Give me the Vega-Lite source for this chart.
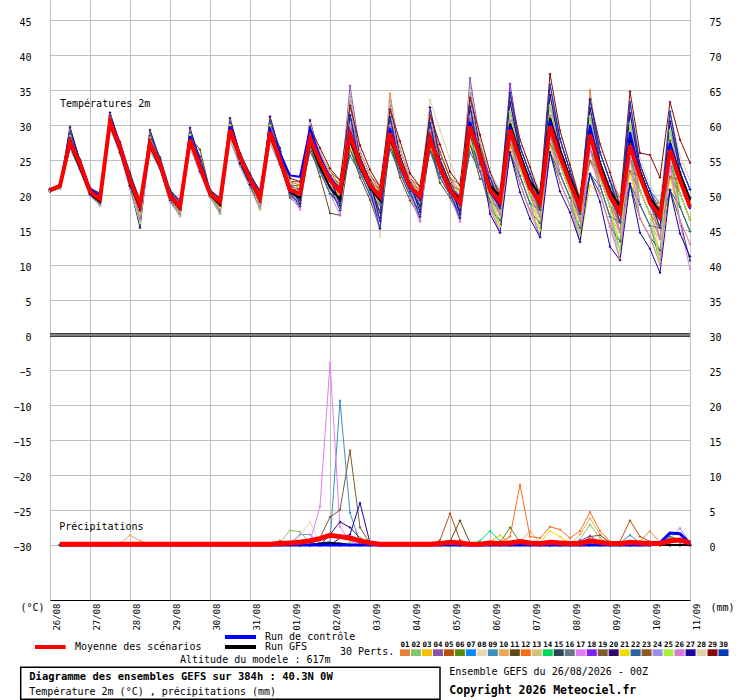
{
  "$schema": "https://vega.github.io/schema/vega-lite/v6.json",
  "width": 640,
  "height": 600,
  "autosize": {"type": "none"},
  "padding": {"left": 50, "top": 0, "right": 50, "bottom": 100},
  "background": "white",
  "config": {"view": {"stroke": null}, "font": "DejaVu Sans Mono"},
  "datasets": {
    "temp": [
      {"s": "01", "t": [20.8,21.4,28.0,24.7,20.7,19.6,30.8,27.1,22.5,18.8,27.8,24.8,20.1,18.5,28.2,24.5,20.4,19.2,29.6,25.7,22.6,19.8,29.4,25.6,21.3,19.3,30.2,25.4,22.7,19.1,34.2,25.4,22.1,17.5,34.5,25.6,21.8,18.4,32.5,25.1,21.6,17.8,35.3,26.5,21.6,17.2,34.6,26.0,22.0,16.9,35.8,26.7,22.6,16.3,35.0,24.8,20.9,14.7,33.3,23.5,19.7,13.7,31.9,23.3,19.6]},
      {"s": "02", "t": [20.7,21.2,28.0,24.5,20.5,19.2,30.8,26.9,22.1,17.9,27.8,24.5,19.8,18.0,28.2,24.0,20.2,18.6,29.6,25.5,22.3,19.1,29.4,25.0,20.3,19.7,27.5,24.1,21.2,19.8,27.6,23.8,20.7,18.6,28.0,23.8,20.5,19.1,27.5,23.2,20.3,18.4,28.6,24.4,21.6,20.8,29.3,26.0,22.0,20.6,29.8,26.7,22.6,19.8,28.6,24.8,20.9,19.7,27.1,23.5,19.7,18.8,26.4,23.3,19.6]},
      {"s": "03", "t": [20.6,21.2,27.3,24.2,20.3,19.2,30.2,26.5,21.7,17.9,27.0,24.2,19.5,18.0,27.5,23.7,20.0,18.6,28.8,25.0,21.9,19.1,28.5,24.7,21.3,20.2,29.1,25.4,22.7,20.5,31.4,25.4,22.1,19.8,31.1,25.6,21.8,19.8,30.3,25.1,21.6,18.9,32.6,26.5,19.0,16.4,28.2,22.7,18.8,16.0,28.6,23.0,19.6,15.3,26.7,21.3,16.9,13.4,25.3,18.6,15.6,12.1,24.5,18.3,14.8]},
      {"s": "04", "t": [20.8,21.3,28.4,24.7,20.7,19.4,31.0,27.1,22.5,18.6,28.2,24.8,20.1,18.3,28.6,24.5,20.4,19.0,30.0,25.7,22.6,19.5,29.9,25.6,21.9,19.7,29.7,26.0,23.3,19.8,35.6,26.2,22.8,18.6,33.4,26.6,22.4,19.1,32.5,26.1,22.4,18.4,36.7,27.6,22.4,19.9,33.3,26.9,23.0,19.7,34.3,28.0,23.4,19.1,32.4,26.1,22.0,18.5,31.7,24.3,20.6,17.9,30.5,24.4,20.8]},
      {"s": "05", "t": [20.5,21.1,27.0,23.8,20.1,19.0,29.9,26.1,21.3,17.3,26.6,23.9,19.3,17.7,27.1,23.4,19.8,18.2,28.3,24.5,21.5,18.7,28.0,24.4,20.7,20.8,27.5,24.8,22.1,21.0,27.6,24.5,21.4,20.3,28.0,24.5,21.2,20.3,27.5,24.0,20.7,19.7,28.6,25.5,19.8,18.1,28.2,23.9,19.9,17.9,28.6,24.3,20.6,17.3,26.7,22.5,18.4,16.1,25.3,20.6,17.3,15.3,24.5,20.2,16.5]},
      {"s": "06", "t": [20.8,21.4,27.6,24.7,20.7,19.8,30.5,27.1,22.5,19.0,27.4,24.8,20.1,18.8,27.9,24.5,20.4,19.3,29.3,25.7,22.6,20.1,29.0,25.6,20.0,19.3,26.9,23.4,20.2,19.1,26.6,23.2,20.0,17.5,27.3,23.2,19.9,18.4,26.9,22.5,20.0,17.8,27.3,23.4,20.7,18.1,30.6,25.0,21.0,17.9,31.3,25.5,21.7,17.3,29.9,23.6,19.8,16.1,28.6,22.6,18.9,15.3,27.8,22.1,18.3]},
      {"s": "07", "t": [20.7,21.3,27.6,24.5,20.5,19.4,30.5,26.9,22.1,18.6,27.4,24.5,19.8,18.3,27.9,24.0,20.2,19.0,29.3,25.5,22.3,19.5,29.0,25.0,21.3,20.8,28.6,25.4,22.7,21.0,30.0,25.4,22.1,20.3,29.9,25.6,21.8,20.3,29.2,25.1,21.6,19.7,31.2,26.5,22.4,20.8,31.9,26.9,23.0,20.6,32.8,28.0,23.4,19.8,31.2,26.1,22.0,19.7,30.2,24.3,20.6,18.8,29.2,24.4,20.8]},
      {"s": "08", "t": [20.8,21.4,28.9,24.9,20.9,19.6,31.3,27.3,22.9,18.8,28.5,25.1,20.5,18.5,28.9,25.0,20.6,19.2,30.3,25.9,22.8,19.8,30.3,26.2,20.7,18.4,30.2,24.8,22.1,17.8,34.2,24.5,21.4,14.0,33.4,24.5,21.2,16.9,32.5,24.0,20.7,16.7,35.3,25.5,19.8,16.4,30.6,23.9,19.9,16.0,31.3,24.3,20.6,15.3,29.9,22.5,18.4,13.4,28.6,20.6,17.3,12.1,27.8,20.2,16.5]},
      {"s": "09", "t": [20.6,21.1,27.6,24.2,20.3,19.0,30.5,26.5,21.7,17.3,27.4,24.2,19.5,17.7,27.9,23.7,20.0,18.2,29.3,25.0,21.9,18.7,29.0,24.7,20.3,20.2,26.9,24.1,21.2,20.5,26.6,23.8,20.7,19.8,27.3,23.8,20.5,19.8,26.9,23.2,20.3,18.9,27.3,24.4,20.7,19.9,28.2,25.0,21.0,19.7,28.6,25.5,21.7,19.1,26.7,23.6,19.8,18.5,25.3,22.6,18.9,17.9,24.5,22.1,18.3]},
      {"s": "10", "t": [20.8,21.4,28.4,24.9,20.9,19.8,31.0,27.3,22.9,19.0,28.2,25.1,20.5,18.8,28.6,25.0,20.6,19.3,30.0,25.9,22.8,20.1,29.9,26.2,21.9,20.8,29.7,26.0,23.3,21.0,32.8,26.2,22.8,20.3,32.2,26.6,22.4,20.3,31.4,26.1,22.4,19.7,33.9,27.6,19.0,17.2,27.2,22.7,18.8,16.9,27.3,23.0,19.6,16.3,24.9,21.3,16.9,14.7,23.4,18.6,15.6,13.7,22.6,18.3,14.8]},
      {"s": "11", "t": [20.8,21.5,28.0,24.9,20.9,20.1,30.8,27.3,22.9,19.1,27.8,25.1,20.5,19.0,28.2,26.5,20.6,19.5,29.6,25.9,22.8,20.4,29.4,26.2,19.6,18.4,26.9,22.6,17.4,17.1,26.6,22.5,19.3,15.2,27.3,22.5,19.2,16.9,26.9,21.7,19.6,16.7,27.3,22.3,21.6,19.9,30.6,26.0,22.0,19.7,31.3,26.7,22.6,19.1,29.9,24.8,20.9,18.5,28.6,23.5,19.7,17.9,27.8,23.3,19.6]},
      {"s": "12", "t": [20.6,21.3,27.0,24.2,20.3,19.4,29.9,26.5,21.7,18.6,26.6,24.2,19.5,18.3,27.1,23.7,20.0,19.0,28.3,25.0,21.9,19.5,28.0,24.7,21.9,21.4,29.1,26.0,23.3,21.5,31.4,26.2,22.8,20.7,31.1,26.6,22.4,20.7,30.3,26.1,22.4,20.6,32.6,27.6,19.8,17.2,29.3,23.9,19.9,16.9,29.8,24.3,20.6,16.3,28.6,22.5,18.4,14.7,27.1,20.6,17.3,13.7,26.4,20.2,16.5]},
      {"s": "13", "t": [20.7,21.4,27.3,24.5,20.5,19.6,30.2,26.9,22.1,18.8,27.0,24.5,19.8,18.5,27.5,24.0,20.2,19.2,28.8,25.5,22.3,19.8,28.5,25.0,20.7,19.7,28.6,24.8,22.1,19.8,30.0,24.5,21.4,18.6,29.9,24.5,21.2,19.1,29.2,24.0,20.7,18.4,31.2,25.5,21.6,19.0,31.9,26.0,22.0,18.9,32.8,26.7,22.6,18.3,31.2,24.8,20.9,17.4,30.2,23.5,19.7,16.9,29.2,23.3,19.6]},
      {"s": "14", "t": [20.8,21.2,29.7,24.7,20.7,19.2,31.3,27.1,22.5,17.9,28.5,24.8,20.1,18.0,28.9,24.5,20.4,18.6,30.3,25.7,22.6,19.1,30.3,25.6,20.3,19.3,28.1,24.1,21.2,19.1,28.6,23.8,20.7,17.5,28.8,23.8,20.5,18.4,28.1,23.2,20.3,17.8,29.8,24.4,19.0,15.5,29.3,22.7,18.8,14.0,29.8,23.0,19.6,14.3,28.6,21.3,16.9,12.0,27.1,18.6,15.6,10.5,26.4,18.3,14.8]},
      {"s": "15", "t": [20.5,21.0,27.3,23.8,20.1,18.7,30.2,26.1,21.3,16.6,27.0,23.9,19.3,17.3,27.5,23.4,19.8,17.7,28.8,24.5,21.5,18.4,28.5,24.4,20.0,18.8,27.5,23.4,20.2,18.5,27.6,23.2,20.0,16.3,28.0,23.2,19.9,17.6,27.5,22.5,20.0,17.3,28.6,23.4,18.1,16.4,26.1,21.6,17.7,16.0,26.1,21.8,18.5,15.3,23.0,20.2,15.5,13.4,21.6,16.6,14.0,12.1,20.7,16.4,10.6]},
      {"s": "16", "t": [20.6,21.0,28.0,24.2,20.3,18.7,30.8,26.5,21.7,16.6,27.8,24.2,19.5,17.3,28.2,23.7,20.0,17.7,29.6,25.0,21.9,18.4,29.4,24.7,20.7,20.2,28.1,24.8,22.1,20.5,28.6,24.5,21.4,19.8,28.8,24.5,21.2,19.8,28.1,24.0,20.7,18.9,29.8,25.5,19.8,19.0,27.2,23.9,19.9,18.9,27.3,24.3,20.6,18.3,24.9,22.5,18.4,17.4,23.4,20.6,17.3,16.9,22.6,20.2,16.5]},
      {"s": "17", "t": [20.8,21.1,29.3,24.7,20.7,19.0,31.5,27.1,22.5,17.3,28.9,24.8,20.1,17.7,29.3,24.5,20.4,18.2,30.7,25.7,22.6,18.7,31.2,25.6,20.0,17.9,28.6,23.4,20.2,17.1,30.0,23.2,20.0,15.0,29.9,23.2,19.9,16.2,29.2,22.5,20.0,16.2,31.2,23.4,19.0,14.6,30.6,22.7,18.8,14.0,31.3,23.0,19.6,13.3,29.9,21.3,16.9,10.7,28.6,18.6,15.6,11.5,24.0,16.0,9.4]},
      {"s": "18", "t": [20.8,21.5,27.3,24.7,20.7,20.1,30.2,27.1,22.5,19.1,27.0,24.8,20.1,19.0,27.5,24.5,20.4,19.5,28.8,25.7,22.6,20.4,28.5,25.6,21.3,20.8,29.1,25.4,22.7,21.0,31.4,25.4,22.1,20.3,31.1,25.6,21.8,20.3,30.3,25.1,21.6,19.7,32.6,26.5,22.4,19.0,35.9,26.9,23.0,18.9,35.8,28.0,23.4,18.3,33.7,26.1,22.0,17.4,33.3,24.3,20.6,16.9,31.9,24.4,20.8]},
      {"s": "19", "t": [20.5,21.2,26.6,23.8,20.1,19.2,29.6,26.1,21.3,17.9,26.3,23.9,19.3,18.0,26.8,23.4,19.8,18.6,27.9,24.5,21.5,19.1,27.4,24.4,21.3,21.4,28.1,25.4,22.7,21.5,28.6,25.4,22.1,20.7,28.8,25.6,21.8,20.7,28.1,25.1,21.6,20.6,29.8,26.5,21.6,19.0,29.3,26.0,22.0,18.9,29.8,26.7,22.6,18.3,28.6,24.8,20.9,17.4,27.1,23.5,19.7,16.9,26.4,23.3,19.6]},
      {"s": "20", "t": [20.5,20.9,27.6,23.8,20.1,18.5,30.5,26.1,21.3,15.3,27.4,23.9,19.3,17.0,27.9,23.4,19.8,17.3,29.3,24.5,21.5,18.0,29.0,24.4,20.7,19.3,29.1,24.8,22.1,19.1,31.4,24.5,21.4,17.5,31.1,24.5,21.2,18.4,30.3,24.0,20.7,17.8,32.6,25.5,21.6,18.1,33.3,26.0,22.0,17.9,34.3,26.7,22.6,17.3,32.4,24.8,20.9,16.1,31.7,23.5,19.7,15.3,30.5,23.3,19.6]},
      {"s": "21", "t": [20.7,21.1,28.4,24.5,20.5,19.0,31.0,26.9,22.1,17.3,29.3,24.5,19.8,17.7,28.6,24.0,20.2,18.2,30.0,25.5,22.3,18.7,29.9,25.0,21.3,19.7,29.7,25.4,22.7,19.8,32.8,25.4,22.1,18.6,32.2,25.6,21.8,19.1,31.4,25.1,21.6,18.4,33.9,26.5,18.1,15.5,27.2,21.6,17.7,15.0,27.3,21.8,18.5,13.3,21.4,20.2,15.5,10.9,23.4,16.6,14.0,10.5,22.6,16.4,13.0]},
      {"s": "22", "t": [20.7,21.4,27.0,24.5,20.5,19.8,29.9,26.9,22.1,19.0,26.6,24.5,19.8,18.8,27.1,24.0,20.2,19.3,28.3,25.5,22.3,20.1,28.0,25.0,20.0,19.7,26.2,23.4,20.2,19.8,25.6,23.2,20.0,18.6,26.5,23.2,19.9,19.1,26.2,22.5,20.0,18.4,26.1,23.4,19.0,18.1,26.1,22.7,18.8,17.9,26.1,23.0,19.6,17.3,23.0,21.3,16.9,16.1,21.6,18.6,15.6,15.3,20.7,18.3,14.8]},
      {"s": "23", "t": [20.8,21.3,29.3,24.9,20.9,19.4,31.5,27.3,22.9,18.6,28.9,25.1,20.5,18.3,29.3,25.0,20.6,19.0,30.7,25.9,22.8,19.5,30.8,26.2,21.9,21.9,28.6,26.0,23.3,22.1,30.0,26.2,22.8,21.2,29.9,26.6,22.4,21.2,29.2,26.1,22.4,21.4,31.2,27.6,20.7,20.8,27.2,25.0,21.0,20.6,27.3,25.5,21.7,19.8,24.9,23.6,19.8,19.7,23.4,22.6,18.9,18.8,22.6,22.1,18.3]},
      {"s": "24", "t": [20.5,20.9,26.6,23.5,19.9,18.5,29.6,25.8,20.8,16.0,26.3,23.6,19.0,17.0,26.8,23.1,19.7,17.3,27.9,24.1,21.0,18.0,27.4,24.2,20.7,18.8,29.7,24.8,22.1,18.5,32.8,24.5,21.4,16.3,32.2,24.5,21.2,17.6,31.4,24.0,20.7,17.3,33.9,25.5,20.7,17.2,31.9,25.0,21.0,16.9,32.8,25.5,21.7,16.3,31.2,23.6,19.8,14.7,30.2,22.6,18.9,13.7,29.2,22.1,18.3]},
      {"s": "25", "t": [20.6,20.9,28.4,24.2,20.3,18.5,31.0,26.5,21.7,16.0,28.2,24.2,19.5,17.0,28.6,23.7,20.0,17.3,30.0,25.0,21.9,18.0,29.9,24.7,20.7,21.4,26.9,24.8,22.1,21.5,26.6,24.5,21.4,20.7,27.3,24.5,21.2,20.7,26.9,24.0,20.7,20.6,27.3,25.5,19.8,15.5,31.9,23.9,19.9,15.0,32.8,24.3,20.6,14.3,31.2,22.5,18.4,12.0,30.2,20.6,17.3,10.5,29.2,20.2,16.5]},
      {"s": "26", "t": [20.7,21.0,28.9,24.5,20.5,18.7,31.3,26.9,22.1,16.6,28.5,24.5,19.8,17.3,28.9,24.0,20.2,17.7,30.3,25.5,22.3,18.4,30.3,25.0,20.3,18.8,28.6,24.1,21.2,18.5,30.0,23.8,20.7,16.3,29.9,23.8,20.5,16.2,29.2,23.2,20.3,16.2,31.2,24.4,18.1,14.6,28.2,21.6,17.7,14.0,28.6,21.8,18.5,13.3,26.7,20.2,15.5,10.7,25.3,16.6,14.0,10.0,24.5,16.4,13.0]},
      {"s": "27", "t": [20.8,21.2,29.7,24.9,20.9,19.2,31.8,27.3,22.9,17.9,29.3,25.1,20.5,18.0,29.6,25.0,20.6,18.6,31.0,25.9,22.8,19.1,31.2,26.2,21.3,18.8,30.7,25.4,22.7,18.5,34.2,25.4,22.1,16.3,33.4,25.6,21.8,17.6,32.5,25.1,21.6,17.3,35.3,26.5,17.3,14.6,26.1,20.4,16.6,14.0,26.1,20.5,17.5,13.3,23.0,19.0,12.6,10.7,21.6,14.6,12.3,8.9,20.7,14.5,11.2]},
      {"s": "28", "t": [20.6,21.4,26.6,24.2,20.3,19.6,29.6,26.5,21.7,18.8,26.3,24.2,19.5,18.5,26.8,23.7,20.0,19.2,27.9,25.0,21.9,19.8,27.4,24.7,21.9,20.2,30.2,26.0,23.3,20.5,34.2,26.2,22.8,19.8,33.4,26.6,22.4,19.8,33.6,29.3,25.0,20.6,35.3,27.6,23.3,20.8,34.6,27.9,24.0,20.6,35.8,29.2,24.3,19.8,33.7,27.3,23.2,19.7,33.3,25.2,21.4,18.8,31.9,25.6,22.1]},
      {"s": "29", "t": [20.8,21.5,27.6,24.9,20.9,20.3,30.5,27.3,22.9,19.3,27.4,25.1,20.5,19.3,27.9,25.0,20.6,19.6,29.3,25.9,22.8,20.7,29.0,26.2,22.4,21.9,29.7,26.7,23.8,22.1,32.8,27.1,23.6,21.2,32.2,27.7,23.1,21.2,31.4,27.2,23.3,21.4,33.9,28.6,23.3,19.9,34.6,27.9,24.0,19.7,37.3,29.2,24.3,19.1,33.6,27.3,23.2,18.5,34.8,26.0,25.7,22.5,33.3,27.9,24.6]},
      {"s": "30", "t": [20.9,21.5,28.9,25.1,21.1,20.1,31.3,27.6,23.2,19.1,28.5,25.4,20.8,19.0,28.9,25.5,20.8,19.5,30.3,26.0,23.1,20.4,30.3,26.7,20.3,18.4,29.1,24.1,21.2,17.8,31.4,23.8,20.7,15.2,31.1,23.8,20.5,16.9,30.3,23.2,20.3,16.7,32.6,24.4,22.4,19.0,34.6,26.9,23.0,18.9,35.8,28.0,23.4,18.3,33.7,26.1,22.0,17.4,33.3,24.3,20.6,16.9,31.9,24.4,20.8]},
      {"s": "c", "t": [20.8,21.4,28.0,24.8,20.8,19.8,31.0,27.2,22.4,18.2,27.6,24.6,20.0,18.4,28.4,24.4,20.4,19.0,29.8,25.8,22.6,19.6,29.4,26.0,22.8,22.6,29.5,25.5,22.5,20.8,29.2,24.8,21.6,19.5,29.5,24.8,21.0,19.4,28.5,24.2,20.6,18.6,30.5,25.6,20.4,18.5,29.8,25.2,21.2,18.6,30.6,26.0,21.5,18.0,30.0,24.0,19.5,17.2,29.0,23.0,18.6,16.5,27.5,22.5,18.0]},
      {"s": "g", "t": [20.6,21.2,27.2,23.8,20.2,19.0,30.0,26.4,21.6,18.0,27.0,24.0,19.6,18.0,27.6,23.8,20.0,18.6,29.0,25.2,22.0,19.2,28.6,24.6,20.4,19.6,27.6,24.0,21.0,19.4,27.8,24.0,21.0,19.2,28.0,24.2,21.0,19.6,28.6,24.4,21.0,19.4,30.4,26.0,21.4,19.8,30.2,25.8,22.0,20.0,31.0,26.4,22.4,19.2,29.6,24.4,20.6,18.4,28.2,23.4,19.6,17.6,27.4,23.0,19.2]},
      {"s": "m", "t": [20.7,21.3,27.6,24.5,20.5,19.4,30.5,26.9,22.1,18.6,27.4,24.5,19.8,18.3,27.9,24.0,20.2,19.0,29.3,25.5,22.3,19.5,29.0,25.0,20.7,20.2,28.1,24.8,22.1,20.5,28.6,24.5,21.4,19.8,28.8,24.5,21.2,19.8,28.1,24.0,20.7,18.9,29.8,25.5,20.7,19.0,29.3,25.0,21.0,18.9,29.8,25.5,21.7,18.3,28.6,23.6,19.8,17.4,27.1,22.6,18.9,16.9,26.4,22.1,18.3]}
    ],
    "rain": [
      {"s": "01", "p": [0,0,0,0,0,0,0,0,0,0,0,0,0,0,0,0,0,0,0,0,0,0,0,0,0,0,0,0,0,0,0,0,0,0,0,0,0,0,0,0,0,0,0,0,0,0,0,0,0,0,0,0,0,0,0,0,0,0,0.5,2.0,0.3,0,0,0]},
      {"s": "02", "p": [0,0,0,0,0,0,0,0,0,0,0,0,0,0,0,0,0,0,0,0,0,0,0.3,2.1,1.9,0.3,0,0,0,0,0,0,0,0,0,0,0,0,0,0,0,0,0,0,0,0,0,0,0,0,0,0,0.8,2.9,1.0,0,0,0,0,0,0,0,0,0]},
      {"s": "03", "p": [0,0,0,0,0,0,0,0,0,0,0,0,0,0,0,0,0,0,0,0,0,0,0,0,0,0,0,0,0,0,0,0,0,0,0,0,0,0,0,0,0,0,0,0.5,1.4,0.4,0,0,0,0,0,0,0,0,0,0,0,0,0,0,0,0,0,0]},
      {"s": "05", "p": [0,0,0,0,0,0,0,0,0,0,0,0,0,0,0,0,0,0,0,0,0,0.2,0.6,0.2,0,0,0,0,0,0,0,0,0,0,0,0,0,0,0.7,4.5,0.7,0,0,0,0,0,0,0,0,0,0,0,0,0,0,0,0.5,3.5,1.2,0.5,0,0,0,0]},
      {"s": "06", "p": [0,0,0,0,0,0,0,0,0,0,0,0,0,0,0,0,0,0,0,0,0,0,0,0,0,0,0,0,0,0,0,0,0,0,0,0,0,0,0,0,0,0,0,0,0.3,2.5,0.4,0,0,0,0,0,0,0,0,0,0,0,0,0,0,1.2,0.8,0]},
      {"s": "08", "p": [0,0,0,0,0,0,0,0,0,0,0,0,0,0,0,0,0,0,0,0,0,0,0,0.2,1.3,3.3,0.3,0,0,0,0,0,0,0,0,0,0,0,0,0,0,0,0,0,0,0,0,0,0,0,0,0,0,0,0,0,0,0,0,0,0,0,0,0]},
      {"s": "09", "p": [0,0,0,0,0,0,0,0,0,0,0,0,0,0,0,0,0,0,0,0,0,0,0,0,0,0,0.3,0.5,20.6,4.6,0.3,0,0,0,0,0,0,0,0,0,0,0,0,0,0,0,0,0,0,0,0,0,0,0,0,0,0.3,1.4,0.3,0,0,0,0,0]},
      {"s": "10", "p": [0,0,0,0,0,0,0.2,1.4,0.6,0.1,0,0,0,0,0,0,0,0,0,0,0,0,0,0,0,0,0,0,0,0,0,0,0,0,0,0,0,0,0,0,0,0,0,0,0,0,0.4,2.0,0.3,0,0,0,1.5,3.8,1.5,0,0,0,0,0,0,0,0,0]},
      {"s": "11", "p": [0,0,0,0,0,0,0,0,0,0,0,0,0,0,0,0,0,0,0,0,0,0,0,0,0,0,0,0,0,0,0,0,0,0,0,0,0,0,0,0.5,3.5,0.3,0,0,0,0,0,0,0,0,0,0,0,0,0,0,0,0,0,0,0,0,0,0]},
      {"s": "12", "p": [0,0,0,0,0,0,0,0,0,0,0,0,0,0,0,0,0,0,0,0,0,0,0,0,0,0,0,0,0,0,0,0,0,0,0,0,0,0,0,0,0,0,0,0,0.3,1.2,8.6,1.2,1.0,2.6,2.2,1.0,2.0,4.7,2.0,0.5,0,0,0,0,0,0,0,0]},
      {"s": "14", "p": [0,0,0,0,0,0,0,0,0,0,0,0,0,0,0,0,0,0,0,0,0,0,0,0,0,0,0,0,0,0,0,0,0,0,0,0,0,0,0,0,0,0,0.6,2.0,0.6,0,0,0,0,0,0,0,0,0,0,0,0,0,0,0,0,0,0,0]},
      {"s": "17", "p": [0,0,0,0,0,0,0,0,0,0,0,0,0,0,0,0,0,0,0,0,0,0,0,0,0.2,0.5,5.5,26.0,2.6,0.5,0,0,0,0,0,0,0,0,0,0,0,0,0,0,0,0,0,0,0,0,0,0,0,0,0,0,0,0,0,0,0,0,0,0]},
      {"s": "18", "p": [0,0,0,0,0,0,0,0,0,0,0,0,0,0,0,0,0,0,0,0,0,0,0,0,0,0,0,0,0,0,0,0,0,0,0,0,0,0,0,0,0,0,0,0,0,0,0,0,0,0,0,0,0.6,1.3,0.3,0,0,0,0,0,0,0,0,0]},
      {"s": "19", "p": [0,0,0,0,0,0,0,0,0,0,0,0,0,0,0,0,0,0,0,0,0,0,0,0,0,0,1.0,4.0,5.0,13.5,2.5,0.2,0,0,0,0,0,0,0,0,0,0,0,0,0,0,0,0,0,0,0,0,0,0,0,0,0,0,0,0,0,0,0,0]},
      {"s": "20", "p": [0,0,0,0,0,0,0,0,0,0,0,0,0,0,0,0,0,0,0,0,0,0,0,0,0,0,0,1.5,3.3,2.5,1.0,0.2,0,0,0,0,0,0,0,0,0,0,0,0,0,0,0,0,0,0,0,0,0,0,0,0,0,0,0,0,0,0,0,0]},
      {"s": "21", "p": [0,0,0,0,0,0,0,0,0,0,0,0,0,0,0,0,0,0,0,0,0,0,0,0,0,0,0,0,0,0,0,0,0,0,0,0,0,0,0,0,0,0,0,0,0,0,0,0,0.4,2.0,1.2,0.2,0,0,0,0,0,0,0,0,0,0,0,0]},
      {"s": "23", "p": [0,0,0,0,0,0,0,0,0,0,0,0,0,0,0,0,0,0,0,0,0,0,0,0,0,0,0,0,0,0,0,0,0,0,0,0,0,0,0,0,0,0,0,0,0,0,0,0,0,0,0,0,0,1.2,1.4,0.4,0,0,0,0,0,0,0,0]},
      {"s": "24", "p": [0,0,0,0,0,0,0,0,0,0,0,0,0,0,0,0,0,0,0,0,0,0,0,0.3,1.5,1.5,0.2,0,0,0,0,0,0,0,0,0,0,0,0,0,0,0,0,0,0,0,0,0,0,0,0,0,0,0,0,0,0,0,0,0,0,0.9,2.4,0.3]},
      {"s": "25", "p": [0,0,0,0,0,0,0,0,0,0,0,0,0,0,0,0,0,0,0,0,0,0,0,0,0,0,0,0,0,0.4,1.0,0.2,0,0,0,0,0,0,0,0,0,0,0,0,0,0,0,0,0,0,0,0,0,0,0,0,0,0,0,0,0,0,0,0]},
      {"s": "27", "p": [0,0,0,0,0,0,0,0,0,0,0,0,0,0,0,0,0,0,0,0,0,0,0,0,0,0,0,0,1.0,1.5,6.0,0.3,0,0,0,0,0,0,0,0,0,0,0,0,0,0,0,0,0,0,0,0,0,0,0,0,0,0,0,0,0,0,0,0]},
      {"s": "g", "p": [0,0,0,0,0,0,0,0,0,0,0,0,0,0,0,0,0,0,0,0,0,0,0,0,0,0,0.2,0.3,0.2,0,0,0,0,0,0,0,0,0,0,0,0,0,0,0,0,0,0,0,0,0,0,0,0,0,0,0,0,0,0,0,0,0,0,0]},
      {"s": "c", "p": [0,0,0,0,0,0,0,0,0,0,0,0,0,0,0,0,0,0,0,0,0,0,0,0,0,0,0,0,0,0,0,0,0,0,0,0,0,0,0,0,0,0,0,0,0,0,0,0,0,0,0,0,0,0,0,0,0,0,0,0,0.3,1.7,1.6,0.2]},
      {"s": "m", "p": [0.1,0.1,0.1,0.1,0.1,0.1,0.1,0.1,0.1,0.1,0.1,0.1,0.1,0.1,0.1,0.1,0.1,0.1,0.1,0.1,0.1,0.1,0.2,0.3,0.4,0.6,0.9,1.4,1.2,1.0,0.6,0.3,0.1,0.1,0.1,0.1,0.1,0.1,0.2,0.4,0.3,0.1,0.1,0.3,0.2,0.3,0.5,0.3,0.2,0.4,0.3,0.2,0.2,0.6,0.4,0.2,0.2,0.4,0.3,0.2,0.2,0.6,0.7,0.3]}
    ]
  },
  "resolve": {"scale": {"x": "independent", "y": "independent"}},
  "layer": [
    {
      "data": {"name": "rain"},
      "transform": [
        {"flatten": ["p"]},
        {"window": [{"op": "row_number", "as": "i"}], "groupby": ["s"]}
      ],
      "encoding": {
        "x": {
          "field": "i", "type": "quantitative",
          "scale": {"domain": [0, 64]},
          "axis": {
            "orient": "bottom", "values": [0,4,8,12,16,20,24,28,32,36,40,44,48,52,56,60,64],
            "labelExpr": "['26/08','27/08','28/08','29/08','30/08','31/08','01/09','02/09','03/09','04/09','05/09','06/09','07/09','08/09','09/09','10/09','11/09'][datum.value/4]",
            "grid": true, "gridColor": "#c0c0c0", "gridWidth": 1,
            "domain": true, "domainColor": "#000000", "domainWidth": 1,
            "ticks": false, "labelAngle": 270, "labelAlign": "right", "labelBaseline": "middle",
            "labelPadding": 3, "labelOffset": 6, "labelFont": "DejaVu Sans Mono", "labelFontSize": 9,
            "labelColor": "#000000", "labelOverlap": false, "labelFlush": false, "labelBound": false, "title": null
          }
        },
        "y": {
          "field": "p", "type": "quantitative",
          "scale": {"domain": [-7.857, 77.857]},
          "axis": {
            "orient": "right", "values": [0,5,10,15,20,25,30,35,40,45,50,55,60,65,70,75],
            "grid": false, "domain": false, "ticks": false, "labelPadding": 19, "labelOffset": 2.5,
            "labelAlign": "left", "labelFont": "DejaVu Sans Mono", "labelFontSize": 10, "labelColor": "#000000",
            "labelOverlap": false, "labelFlush": false, "labelBound": false,
            "title": "(mm)", "titleAngle": 0, "titleX": 32, "titleY": 607, "titleAlign": "center", "titleBaseline": "middle",
            "titleFont": "DejaVu Sans Mono", "titleFontSize": 10, "titleFontWeight": "normal", "titleColor": "#000000"
          }
        }
      },
      "layer": [
        {
          "transform": [{"filter": "length(datum.s) == 2"}],
          "mark": {"type": "line", "strokeWidth": 1, "point": {"shape": "cross", "size": 6, "filled": true}},
          "encoding": {
            "color": {
              "field": "s", "type": "nominal", "legend": null,
              "scale": {
                "domain": ["01","02","03","04","05","06","07","08","09","10","11","12","13","14","15","16","17","18","19","20","21","22","23","24","25","26","27","28","29","30"],
                "range": ["#e8823a","#88c46c","#f0c000","#8c52a8","#b4500c","#5a8a0c","#0a86f5","#e8d8b4","#3c90c0","#e8a85c","#604a18","#f86c1c","#d2c07c","#00d85c","#284858","#687880","#e07cf4","#7c20f0","#7c5c30","#300872","#f0d800","#2866a0","#8e5a20","#9a8ee8","#a4f040","#d878d4","#1c00a0","#e0d0b0","#880808","#0038b8"]
              }
            }
          }
        },
        {"transform": [{"filter": "datum.s == 'g'"}], "mark": {"type": "line", "color": "#000000", "strokeWidth": 2}},
        {"transform": [{"filter": "datum.s == 'c'"}], "mark": {"type": "line", "color": "#0000ff", "strokeWidth": 3}},
        {"transform": [{"filter": "datum.s == 'm'"}], "mark": {"type": "line", "color": "#ff0000", "strokeWidth": 5}}
      ]
    },
    {
      "data": {"name": "temp"},
      "transform": [
        {"flatten": ["t"]},
        {"window": [{"op": "row_number", "as": "i"}], "groupby": ["s"]}
      ],
      "encoding": {
        "x": {"field": "i", "type": "quantitative", "scale": {"domain": [1, 65]}, "axis": null},
        "y": {
          "field": "t", "type": "quantitative",
          "scale": {"domain": [-37.857, 47.857]},
          "axis": {
            "orient": "left", "values": [-30,-25,-20,-15,-10,-5,0,5,10,15,20,25,30,35,40,45],
            "grid": true, "gridColor": "#c0c0c0", "gridWidth": 1,
            "domain": false, "ticks": false, "labelPadding": 19, "labelOffset": 2.5,
            "labelFont": "DejaVu Sans Mono", "labelFontSize": 10, "labelColor": "#000000",
            "labelOverlap": false, "labelFlush": false, "labelBound": false,
            "title": "(°C)", "titleAngle": 0, "titleX": -18, "titleY": 607, "titleAlign": "center", "titleBaseline": "middle",
            "titleFont": "DejaVu Sans Mono", "titleFontSize": 10, "titleFontWeight": "normal", "titleColor": "#000000"
          }
        }
      },
      "layer": [
        {
          "transform": [{"filter": "length(datum.s) == 2"}],
          "mark": {"type": "line", "strokeWidth": 1, "point": {"shape": "cross", "size": 6, "filled": true}},
          "encoding": {
            "color": {
              "field": "s", "type": "nominal", "legend": null,
              "scale": {
                "domain": ["01","02","03","04","05","06","07","08","09","10","11","12","13","14","15","16","17","18","19","20","21","22","23","24","25","26","27","28","29","30"],
                "range": ["#e8823a","#88c46c","#f0c000","#8c52a8","#b4500c","#5a8a0c","#0a86f5","#e8d8b4","#3c90c0","#e8a85c","#604a18","#f86c1c","#d2c07c","#00d85c","#284858","#687880","#e07cf4","#7c20f0","#7c5c30","#300872","#f0d800","#2866a0","#8e5a20","#9a8ee8","#a4f040","#d878d4","#1c00a0","#e0d0b0","#880808","#0038b8"]
              }
            }
          }
        },
        {"transform": [{"filter": "datum.s == 'g'"}], "mark": {"type": "line", "color": "#000000", "strokeWidth": 2}},
        {"transform": [{"filter": "datum.s == 'c'"}], "mark": {"type": "line", "color": "#0000ff", "strokeWidth": 2}},
        {"transform": [{"filter": "datum.s == 'm'"}], "mark": {"type": "line", "color": "#ff0000", "strokeWidth": 4}}
      ]
    },
    {
      "data": {"values": [{}]},
      "layer": [
        {"mark": {"type": "rule", "color": "#000000", "strokeWidth": 3.5},
         "encoding": {"y": {"datum": 30, "type": "quantitative", "scale": {"domain": [-7.857, 77.857]}, "axis": null}}},
        {"mark": {"type": "rule", "color": "#ffffff", "strokeWidth": 1},
         "encoding": {"y": {"datum": 30, "type": "quantitative", "scale": {"domain": [-7.857, 77.857]}, "axis": null}}},
        {"mark": {"type": "text", "text": "Températures 2m", "align": "left", "baseline": "middle", "font": "DejaVu Sans Mono", "fontSize": 10, "color": "#000000"},
         "encoding": {"x": {"datum": 1.0, "type": "quantitative", "scale": {"domain": [0, 64]}, "axis": null},
                      "y": {"datum": 63.0, "type": "quantitative", "scale": {"domain": [-7.857, 77.857]}, "axis": null}}},
        {"mark": {"type": "text", "text": "Précipitations", "align": "left", "baseline": "middle", "font": "DejaVu Sans Mono", "fontSize": 10, "color": "#000000"},
         "encoding": {"x": {"datum": 0.93, "type": "quantitative", "scale": {"domain": [0, 64]}, "axis": null},
                      "y": {"datum": 2.61, "type": "quantitative", "scale": {"domain": [-7.857, 77.857]}, "axis": null}}},
        {"mark": {"type": "rule", "color": "#ff0000", "strokeWidth": 4},
         "encoding": {"x": {"datum": -1.5, "type": "quantitative", "scale": {"domain": [0, 64]}, "axis": null}, "x2": {"datum": 1.57},
                      "y": {"datum": -14.57, "type": "quantitative", "scale": {"domain": [-7.857, 77.857]}, "axis": null}}},
        {"mark": {"type": "rule", "color": "#0000ff", "strokeWidth": 4},
         "encoding": {"x": {"datum": 17.5, "type": "quantitative", "scale": {"domain": [0, 64]}, "axis": null}, "x2": {"datum": 20.6},
                      "y": {"datum": -13.14, "type": "quantitative", "scale": {"domain": [-7.857, 77.857]}, "axis": null}}},
        {"mark": {"type": "rule", "color": "#000000", "strokeWidth": 4},
         "encoding": {"x": {"datum": 17.5, "type": "quantitative", "scale": {"domain": [0, 64]}, "axis": null}, "x2": {"datum": 20.6},
                      "y": {"datum": -14.57, "type": "quantitative", "scale": {"domain": [-7.857, 77.857]}, "axis": null}}},
        {"mark": {"type": "text", "text": "Moyenne des scénarios", "align": "left", "baseline": "middle", "font": "DejaVu Sans Mono", "fontSize": 10, "color": "#000000"},
         "encoding": {"x": {"datum": 2.5, "type": "quantitative", "scale": {"domain": [0, 64]}, "axis": null},
                      "y": {"datum": -14.61, "type": "quantitative", "scale": {"domain": [-7.857, 77.857]}, "axis": null}}},
        {"mark": {"type": "text", "text": "Run de contrôle", "align": "left", "baseline": "middle", "font": "DejaVu Sans Mono", "fontSize": 10, "color": "#000000"},
         "encoding": {"x": {"datum": 21.5, "type": "quantitative", "scale": {"domain": [0, 64]}, "axis": null},
                      "y": {"datum": -13.19, "type": "quantitative", "scale": {"domain": [-7.857, 77.857]}, "axis": null}}},
        {"mark": {"type": "text", "text": "Run GFS", "align": "left", "baseline": "middle", "font": "DejaVu Sans Mono", "fontSize": 10, "color": "#000000"},
         "encoding": {"x": {"datum": 21.5, "type": "quantitative", "scale": {"domain": [0, 64]}, "axis": null},
                      "y": {"datum": -14.61, "type": "quantitative", "scale": {"domain": [-7.857, 77.857]}, "axis": null}}},
        {"mark": {"type": "text", "text": "Altitude du modele : 617m", "align": "left", "baseline": "middle", "font": "DejaVu Sans Mono", "fontSize": 10, "color": "#000000"},
         "encoding": {"x": {"datum": 13.0, "type": "quantitative", "scale": {"domain": [0, 64]}, "axis": null},
                      "y": {"datum": -16.47, "type": "quantitative", "scale": {"domain": [-7.857, 77.857]}, "axis": null}}},
        {"mark": {"type": "text", "text": "30 Perts.", "align": "left", "baseline": "middle", "font": "DejaVu Sans Mono", "fontSize": 10, "color": "#000000"},
         "encoding": {"x": {"datum": 29.0, "type": "quantitative", "scale": {"domain": [0, 64]}, "axis": null},
                      "y": {"datum": -15.33, "type": "quantitative", "scale": {"domain": [-7.857, 77.857]}, "axis": null}}},
        {"mark": {"type": "rect", "fill": "#ffffff", "stroke": "#000000", "strokeWidth": 1.5},
         "encoding": {"x": {"datum": -2.93, "type": "quantitative", "scale": {"domain": [0, 64]}, "axis": null}, "x2": {"datum": 39.0},
                      "y": {"datum": -17.47, "type": "quantitative", "scale": {"domain": [-7.857, 77.857]}, "axis": null}, "y2": {"datum": -22.04}}},
        {"mark": {"type": "text", "text": "Diagramme des ensembles GEFS sur 384h : 40.3N 0W", "align": "left", "baseline": "middle", "font": "DejaVu Sans Mono", "fontSize": 10.5, "fontWeight": "bold", "color": "#000000"},
         "encoding": {"x": {"datum": -2.07, "type": "quantitative", "scale": {"domain": [0, 64]}, "axis": null},
                      "y": {"datum": -18.9, "type": "quantitative", "scale": {"domain": [-7.857, 77.857]}, "axis": null}}},
        {"mark": {"type": "text", "text": "Température 2m (°C) , précipitations (mm)", "align": "left", "baseline": "middle", "font": "DejaVu Sans Mono", "fontSize": 10, "color": "#000000"},
         "encoding": {"x": {"datum": -2.07, "type": "quantitative", "scale": {"domain": [0, 64]}, "axis": null},
                      "y": {"datum": -20.96, "type": "quantitative", "scale": {"domain": [-7.857, 77.857]}, "axis": null}}},
        {"mark": {"type": "text", "text": "Ensemble GEFS du 26/08/2026 - 00Z", "align": "left", "baseline": "middle", "font": "DejaVu Sans Mono", "fontSize": 10, "color": "#000000"},
         "encoding": {"x": {"datum": 39.93, "type": "quantitative", "scale": {"domain": [0, 64]}, "axis": null},
                      "y": {"datum": -18.1, "type": "quantitative", "scale": {"domain": [-7.857, 77.857]}, "axis": null}}},
        {"mark": {"type": "text", "text": "Copyright 2026 Meteociel.fr", "align": "left", "baseline": "middle", "font": "DejaVu Sans Mono", "fontSize": 11.5, "fontWeight": "bold", "color": "#000000"},
         "encoding": {"x": {"datum": 39.93, "type": "quantitative", "scale": {"domain": [0, 64]}, "axis": null},
                      "y": {"datum": -20.86, "type": "quantitative", "scale": {"domain": [-7.857, 77.857]}, "axis": null}}}
      ]
    },
    {
      "data": {"name": "temp"},
      "transform": [{"filter": "length(datum.s) == 2"}],
      "encoding": {
        "x": {
          "field": "s", "type": "nominal", "axis": null,
          "scale": {"type": "band", "domain": ["01","02","03","04","05","06","07","08","09","10","11","12","13","14","15","16","17","18","19","20","21","22","23","24","25","26","27","28","29","30"], "range": [350, 678.5], "paddingInner": 0.09, "paddingOuter": 0}
        }
      },
      "layer": [
        {
          "mark": {"type": "rect"},
          "encoding": {
            "y": {"datum": -14.9, "type": "quantitative", "scale": {"domain": [-7.857, 77.857]}, "axis": null},
            "y2": {"datum": -15.86},
            "color": {
              "field": "s", "type": "nominal", "legend": null,
              "scale": {
                "domain": ["01","02","03","04","05","06","07","08","09","10","11","12","13","14","15","16","17","18","19","20","21","22","23","24","25","26","27","28","29","30"],
                "range": ["#e8823a","#88c46c","#f0c000","#8c52a8","#b4500c","#5a8a0c","#0a86f5","#e8d8b4","#3c90c0","#e8a85c","#604a18","#f86c1c","#d2c07c","#00d85c","#284858","#687880","#e07cf4","#7c20f0","#7c5c30","#300872","#f0d800","#2866a0","#8e5a20","#9a8ee8","#a4f040","#d878d4","#1c00a0","#e0d0b0","#880808","#0038b8"]
              }
            }
          }
        },
        {
          "mark": {"type": "text", "font": "DejaVu Sans Mono", "fontSize": 7.5, "fontWeight": "bold", "baseline": "alphabetic", "color": "#000000"},
          "encoding": {
            "y": {"datum": -14.61, "type": "quantitative", "scale": {"domain": [-7.857, 77.857]}, "axis": null},
            "text": {"field": "s"}
          }
        }
      ]
    }
  ]
}
